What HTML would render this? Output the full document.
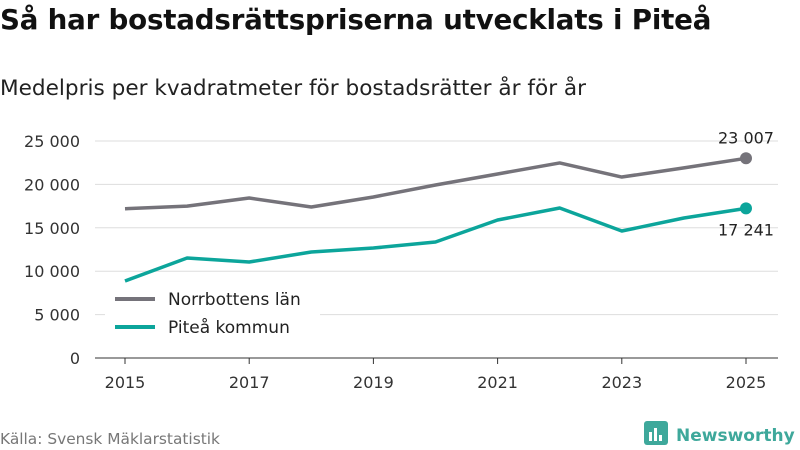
<!DOCTYPE html>
<html><head><meta charset="utf-8">
<style>
html,body{margin:0;padding:0;background:#fff;width:800px;height:450px;overflow:hidden;font-family:"DejaVu Sans","Liberation Sans",sans-serif;}
#title{position:absolute;left:0;top:3px;font-size:27.7px;font-weight:bold;color:#111;letter-spacing:-0.2px;white-space:nowrap;}
#sub{position:absolute;left:0;top:76px;font-size:21.6px;color:#222;white-space:nowrap;}
#src{position:absolute;left:0;top:430px;font-size:15.4px;color:#777;}
svg{position:absolute;left:0;top:0;}
</style></head><body>
<div id="title">Så har bostadsrättspriserna utvecklats i Piteå</div>
<div id="sub">Medelpris per kvadratmeter för bostadsrätter år för år</div>
<div id="src">Källa: Svensk Mäklarstatistik</div>
<svg id="chart" width="800" height="450" font-family="DejaVu Sans, Liberation Sans, sans-serif"></svg>
<script>
const years=[2015,2016,2017,2018,2019,2020,2021,2022,2023,2024,2025];
const norrbotten=[17200,17500,18430,17400,18550,19930,21200,22470,20850,21900,23007];
const pitea=[8870,11520,11060,12210,12670,13360,15900,17280,14630,16130,17241];
const yTicks=[0,5000,10000,15000,20000,25000];
const yTickLabels=["0","5 000","10 000","15 000","20 000","25 000"];
const xTicks=[2015,2017,2019,2021,2023,2025];
const NS="http://www.w3.org/2000/svg";
const svg=document.getElementById('chart');
const x=v=>125+(v-2015)*62.1;
const y=v=>358-v/25000*217;
function mk(t,a,p){const e=document.createElementNS(NS,t);for(const k in a)e.setAttribute(k,a[k]);(p||svg).appendChild(e);return e;}
yTicks.forEach((t,i)=>{
 const g=mk('line',{x1:95,x2:778,y1:y(t),y2:y(t),stroke:t===0?'#333':'#ddd','stroke-width':1});
 
 
 const l=mk('text',{x:80,y:y(t)+6,'text-anchor':'end','font-size':16,fill:'#333'});
 l.textContent=yTickLabels[i];
 
 
});
xTicks.forEach(t=>{
 const k=mk('line',{x1:x(t),x2:x(t),y1:358,y2:364,stroke:'#333'});
 
 
 const l=mk('text',{x:x(t),y:388,'text-anchor':'middle','font-size':16,fill:'#333'});
 l.textContent=t;
 
 
});
function series(vals,color,name){
 const p=mk('polyline',{points:vals.map((v,i)=>x(years[i])+','+y(v)).join(' '),fill:'none',stroke:color,'stroke-width':3.5,'stroke-linejoin':'round'});
 
 
 const n=vals.length-1;
 const c=mk('circle',{cx:x(years[n]),cy:y(vals[n]),r:6,fill:color});
 
 
}
series(norrbotten,'#75737a','norrbotten');
series(pitea,'#0ca59b','pitea');
function fmt(v){return String(v).replace(/\B(?=(\d{3})+(?!\d))/g,' ');}
const a1=mk('text',{x:x(2025),y:y(norrbotten[10])-15,'text-anchor':'middle','font-size':16,fill:'#222'});
a1.textContent=fmt(norrbotten[10]);


const a2=mk('text',{x:x(2025),y:y(pitea[10])+27,'text-anchor':'middle','font-size':16,fill:'#222'});
a2.textContent=fmt(pitea[10]);


const lg=mk('rect',{x:105,y:285,width:215,height:60,fill:'#fff'});


[['Norrbottens län','#75737a',299],['Piteå kommun','#0ca59b',327]].forEach(([t,c,yy])=>{
 const g=mk('g',{});
 
 
 mk('line',{x1:115,x2:155,y1:yy,y2:yy,stroke:c,'stroke-width':4},g);
 const tx=mk('text',{x:168,y:yy+6,'font-size':17,fill:'#222'},g);
 tx.textContent=t;
});
const logo=mk('g',{});


mk('rect',{x:644,y:421,width:24,height:24,rx:3,fill:'#3ea89b'},logo);
mk('rect',{x:649,y:432,width:3,height:9,fill:'#fff'},logo);
mk('rect',{x:654,y:428,width:3,height:13,fill:'#fff'},logo);
mk('rect',{x:659,y:435,width:3,height:6,fill:'#fff'},logo);
const lt=mk('text',{x:676,y:441,'font-size':17,'font-weight':'bold',fill:'#3ea89b'},logo);
lt.textContent='Newsworthy';
</script>
</body></html>
